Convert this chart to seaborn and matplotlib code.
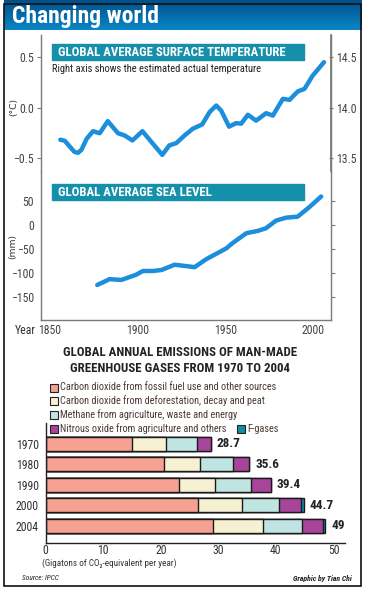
import numpy as np
import pandas as pd
import matplotlib.pyplot as plt
import matplotlib.patches as mpatches
from matplotlib import font_manager
import seaborn as sns

W, H = 374, 590

# temperature anomaly (deg C)
temp_years = [1856, 1858.5, 1861, 1864, 1866, 1868, 1871, 1874.6, 1878.4, 1883, 1888.8, 1892.6,
              1897, 1902.7, 1908.7, 1914, 1918, 1922, 1926.7, 1931.4, 1936.7, 1940.9, 1944.7,
              1947.5, 1952, 1956, 1958.9, 1962.7, 1967.4, 1973.1, 1976.9, 1982.6, 1986.4,
              1991.1, 1994.9, 1999.6, 2006]
temp_anom = [-0.32, -0.33, -0.38, -0.44, -0.45, -0.42, -0.31, -0.235, -0.255, -0.135, -0.255, -0.277,
             -0.327, -0.235, -0.36, -0.47, -0.376, -0.353, -0.277, -0.21, -0.168, -0.046, 0.02,
             -0.03, -0.19, -0.155, -0.16, -0.072, -0.13, -0.056, -0.08, 0.086, 0.076,
             0.16, 0.185, 0.317, 0.45]

# sea level (mm)
sea_years = [1877, 1880, 1884, 1890.7, 1899, 1903, 1908.7, 1913.5, 1921, 1925.8, 1932.4, 1939,
             1950.4, 1954, 1961.8, 1968.4, 1973, 1978.8, 1984.5, 1991, 1997.7, 2004.4]
sea_mm = [-125, -120, -113, -114.6, -104, -96, -96, -94, -83, -85, -88, -71.5,
          -49, -38, -17.4, -12.5, -7, 9, 15, 17, 37, 59]

# emissions (Gt CO2-eq per year)
emis_years = ["1970", "1980", "1990", "2000", "2004"]
co2_fossil = [15.0, 20.5, 23.1, 26.5, 29.1]
co2_forest = [5.9, 6.3, 6.4, 7.6, 8.7]
methane = [5.3, 5.7, 6.2, 6.5, 6.7]
nitrous = [2.5, 2.9, 3.4, 3.7, 3.7]
fgases = [0.0, 0.0, 0.0, 0.5, 0.4]
totals = ["28.7", "35.6", "39.4", "44.7", "49"]

gas_labels = ["Carbon dioxide from fossil fuel use and other sources",
              "Carbon dioxide from deforestation, decay and peat",
              "Methane from agriculture, waste and energy",
              "Nitrous oxide from agriculture and others",
              "F-gases"]
gas_colors = ["#F6A192", "#F7F1D3", "#BFE4E1", "#A8449A", "#0F8FA3"]

sns.set_theme(style="white")
plt.rcParams["font.family"] = ["DejaVu Sans"]

# a narrow face for the newspaper-style texts, if one is around
installed = {f.name for f in font_manager.fontManager.ttflist}
narrow = "Liberation Sans"
for cand in ["Liberation Sans Narrow", "Roboto Condensed", "Open Sans Condensed"]:
    if cand in installed:
        narrow = cand
        break

line_col = "#1C8EDB"
banner_col = "#1590AB"
spine_col = "#7a7a7a"
txt_col = "#333333"


def box(x0, y0, x1, y1):
    return [x0 / W, 1 - y1 / H, (x1 - x0) / W, (y1 - y0) / H]


def fx(x):
    return x / W


def fy(y):
    return 1 - y / H


def tick_fonts(ax, color):
    for lab in ax.get_xticklabels() + ax.get_yticklabels():
        lab.set_fontfamily(narrow)
        lab.set_fontsize(8.5)
        lab.set_color(color)


fig = plt.figure(figsize=(W / 100, H / 100), dpi=100)

# header bar with gradient
hd = fig.add_axes(box(4, 0, 361, 30))
grad = np.linspace(0, 1, 50).reshape(-1, 1)
hd.imshow(grad, aspect="auto", cmap=sns.blend_palette(["#00508A", "#0A86C6"], as_cmap=True),
          extent=[0, 1, 0, 1])
hd.axis("off")
fig.text(fx(12), fy(16), "Changing world", color="white", fontsize=17, fontweight="bold",
         va="center", ha="left", family=narrow)

# frame
fig.patches.append(mpatches.Rectangle((fx(4), fy(586)), fx(357), 582 / H, transform=fig.transFigure,
                                      fill=False, edgecolor="#111111", lw=1.2))

# ---- temperature panel
ax_t = fig.add_axes(box(41, 35, 331, 172))
sns.lineplot(x=temp_years, y=temp_anom, ax=ax_t, color=line_col, linewidth=3.2,
             solid_capstyle="round", solid_joinstyle="round")
ax_t.set_xlim(1845, 2010)
ax_t.set_ylim(-0.64, 0.72)
ax_t.set_yticks([-0.5, 0.0, 0.5])
ax_t.set_yticklabels(["\u22120.5", "0.0", "0.5"])
ax_t.set_xticks([])
ax_t.tick_params(axis="y", length=3, width=0.8, color=spine_col, direction="out", pad=2)
tick_fonts(ax_t, "#444444")
for s in ["top", "bottom"]:
    ax_t.spines[s].set_visible(False)
for s in ["left", "right"]:
    ax_t.spines[s].set_color(spine_col)
    ax_t.spines[s].set_linewidth(1)
fig.text(fx(14), fy(107), "(°C)", fontsize=6.6, color=txt_col, rotation=90, ha="center", va="center")

ax_t2 = ax_t.twinx()
ax_t2.set_ylim(-0.64 + 14, 0.72 + 14)
ax_t2.set_yticks([13.5, 14.0, 14.5])
ax_t2.tick_params(axis="y", length=3, width=0.8, color=spine_col, direction="inout", pad=2)
tick_fonts(ax_t2, "#444444")
for s in ["top", "bottom", "left"]:
    ax_t2.spines[s].set_visible(False)
ax_t2.spines["right"].set_color(spine_col)
ax_t2.grid(False)

fig.patches.append(mpatches.Rectangle((fx(52), fy(60)), fx(252), 16 / H, transform=fig.transFigure,
                                      color=banner_col))
fig.text(fx(58), fy(52), "GLOBAL AVERAGE SURFACE TEMPERATURE", color="white", fontsize=9.2,
         fontweight="bold", va="center", ha="left", family=narrow)
fig.text(fx(52), fy(69.5), "Right axis shows the estimated actual temperature", color="#222222",
         fontsize=7.6, va="center", ha="left", family=narrow)

# ---- sea level panel
ax_s = fig.add_axes(box(41, 172, 331, 320))
sns.lineplot(x=sea_years, y=sea_mm, ax=ax_s, color=line_col, linewidth=3.2,
             solid_capstyle="round", solid_joinstyle="round")
ax_s.set_xlim(1845, 2010)
ax_s.set_ylim(-198, 110)
ax_s.set_yticks([-150, -100, -50, 0, 50])
ax_s.set_yticklabels(["\u2212150", "\u2212100", "\u221250", "0", "50"])
ax_s.set_xticks([1850, 1900, 1950, 2000])
ax_s.tick_params(axis="y", length=3, width=0.8, color=spine_col, direction="out", right=True, pad=2)
ax_s.tick_params(axis="x", length=3, width=0.8, color=spine_col, direction="in", pad=3)
tick_fonts(ax_s, "#444444")
ax_s.spines["top"].set_visible(False)
for s in ["left", "right", "bottom"]:
    ax_s.spines[s].set_color(spine_col)
    ax_s.spines[s].set_linewidth(1)
fig.text(fx(13), fy(247), "(mm)", fontsize=6.6, color=txt_col, rotation=90, ha="center", va="center")
fig.text(fx(36), fy(331), "Year", fontsize=8.5, color="#333333", ha="right", va="center",
         family=narrow)

fig.patches.append(mpatches.Rectangle((fx(52), fy(200)), fx(252), 16 / H, transform=fig.transFigure,
                                      color=banner_col))
fig.text(fx(58), fy(192), "GLOBAL AVERAGE SEA LEVEL", color="white", fontsize=9.2,
         fontweight="bold", va="center", ha="left", family=narrow)

# ---- emissions
fig.text(fx(180), fy(353), "GLOBAL ANNUAL EMISSIONS OF MAN-MADE", fontsize=9.3, fontweight="bold",
         color="#222222", ha="center", va="center", family=narrow)
fig.text(fx(180), fy(368), "GREENHOUSE GASES FROM 1970 TO 2004", fontsize=9.3, fontweight="bold",
         color="#222222", ha="center", va="center", family=narrow)

leg_pos = [(50, 387.5), (50, 401), (50, 415), (50, 428.5), (237, 428.5)]
for (lx, ly), lab, col in zip(leg_pos, gas_labels, gas_colors):
    fig.patches.append(mpatches.Rectangle((fx(lx), fy(ly + 4)), 8 / W, 8 / H, transform=fig.transFigure,
                                          facecolor=col, edgecolor="#222222", lw=0.8))
    fig.text(fx(lx + 10), fy(ly), lab, fontsize=7.4, color="#4a3a35", ha="left", va="center",
             family=narrow)

df = pd.DataFrame({"year": emis_years, "fossil": co2_fossil, "forest": co2_forest,
                   "methane": methane, "nitrous": nitrous, "fgases": fgases})
parts = ["fossil", "forest", "methane", "nitrous", "fgases"]
cum = df[parts].cumsum(axis=1)

ax_e = fig.add_axes(box(45.7, 423, 345, 543))
for part, col in reversed(list(zip(parts, gas_colors))):
    sns.barplot(x=cum[part], y=df["year"], orient="h", color=col, saturation=1, width=0.68,
                edgecolor="#1a1a1a", linewidth=1, ax=ax_e)
for i, lab in enumerate(totals):
    ax_e.text(cum["fgases"].iloc[i] + 1.0, i, lab, fontsize=9.5, fontweight="bold",
              color="#222222", va="center", ha="left", family=narrow)
ax_e.set_xlim(0, 52)
ax_e.set_ylim(4.83, -1.02)
ax_e.set_xticks([0, 10, 20, 30, 40, 50])
ax_e.set_xlabel("")
ax_e.set_ylabel("")
ax_e.tick_params(axis="x", length=0, pad=1)
ax_e.tick_params(axis="y", length=0, pad=5)
tick_fonts(ax_e, "#333333")
for s in ["top", "right"]:
    ax_e.spines[s].set_visible(False)
for s in ["left", "bottom"]:
    ax_e.spines[s].set_color("#222222")
    ax_e.spines[s].set_linewidth(1)

fig.text(fx(42), fy(563.5), "(Gigatons of CO\u2082-equivalent per year)", fontsize=6.6,
         color="#333333", ha="left", va="center", family=[narrow, "DejaVu Sans"])
fig.text(fx(22), fy(578), "Source: IPCC", fontsize=5.3, style="italic", color="#222222",
         ha="left", va="center", family=narrow)
fig.text(fx(352), fy(578), "Graphic by Tian Chi", fontsize=5.6, style="italic", fontweight="bold",
         color="#222222", ha="right", va="center", family=narrow)

fig.savefig("out.png", dpi=100)
